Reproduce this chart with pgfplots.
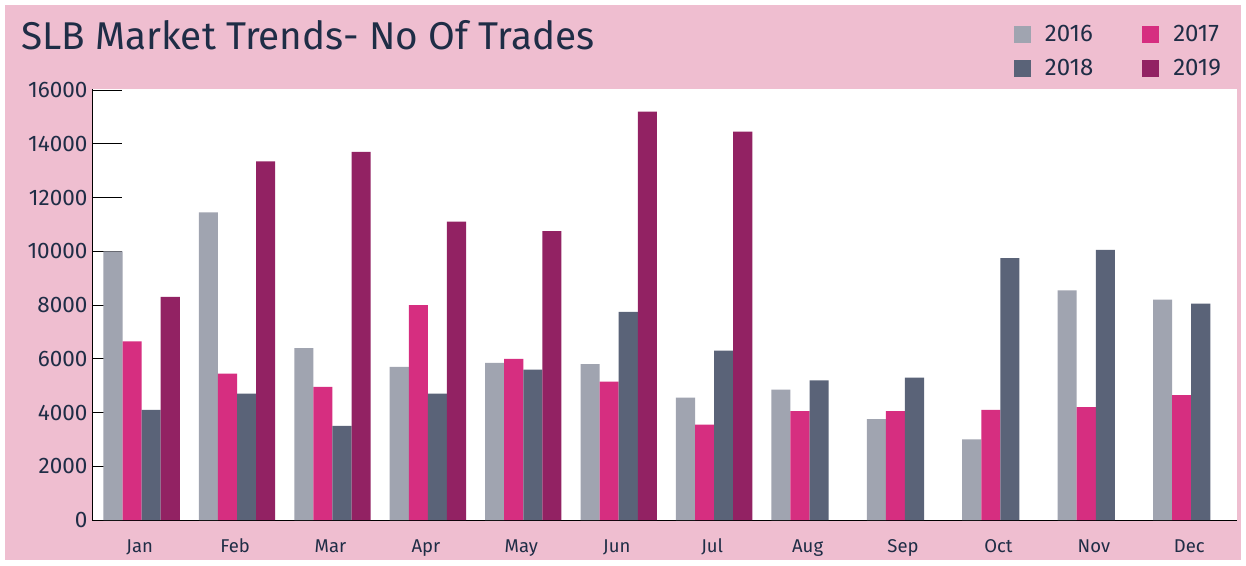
\documentclass[border=0pt]{standalone}
\usepackage{pgfplots}
\pgfplotsset{compat=1.18}
\usepackage{pgfplotstable}
\usepackage{fontspec}
\setmainfont{Fira Sans}
\definecolor{bgpink}{HTML}{EFBED0}
\definecolor{txt}{HTML}{1F2D46}
\definecolor{cA}{HTML}{A0A4B0}
\definecolor{cB}{HTML}{D62E80}
\definecolor{cC}{HTML}{5A6378}
\definecolor{cD}{HTML}{922263}

% month index, value
\pgfplotstableread{
x y
0 10000
1 11450
2 6400
3 5700
4 5850
5 5800
6 4550
7 4850
8 3750
9 3000
10 8550
11 8200
}\tA
\pgfplotstableread{
x y
0 6650
1 5450
2 4950
3 8000
4 6000
5 5150
6 3550
7 4050
8 4050
9 4100
10 4200
11 4650
}\tB
\pgfplotstableread{
x y
0 4100
1 4700
2 3500
3 4700
4 5600
5 7750
6 6300
7 5200
8 5300
9 9750
10 10050
11 8050
}\tC
\pgfplotstableread{
x y
0 8300
1 13350
2 13700
3 11100
4 10750
5 15200
6 14450
}\tD

\begin{document}
\begin{tikzpicture}
\fill[white] (0pt,0pt) rectangle (1246pt,565pt);
\fill[bgpink] (5pt,5pt) rectangle (1241pt,560pt);
\begin{axis}[
  at={(92pt,45pt)}, anchor=south west,
  scale only axis, width=1145pt, height=431pt,
  xmin=-0.5, xmax=11.5, ymin=0, ymax=16040,
  axis background/.style={fill=white},
  axis x line*=bottom, axis y line*=left,
  axis line style={black, line width=1pt, -},
  xtick={0,1,...,11},
  xticklabels={Jan,Feb,Mar,Apr,May,Jun,Jul,Aug,Sep,Oct,Nov,Dec},
  xtick style={draw=none},
  major tick length=30pt,
  extra x ticks={-0.5,0.5,...,11.5},
  extra x tick labels={},
  extra x tick style={major tick length=12pt, tick style={draw=black, line width=1pt}},
  x tick label style={font=\fontsize{18.5}{18.5}\selectfont, text=txt, anchor=base, yshift=-32pt},
  ytick={0,2000,...,16000},
  yticklabel style={font=\fontsize{22.5}{22.5}\selectfont, text=txt, xshift=-1pt},
  scaled y ticks=false,
  /pgf/number format/assume math mode=true,
  yticklabel={\pgfmathprintnumber[fixed,1000 sep={}]{\tick}},
  ytick style={black, line width=1pt},
  xtick align=inside, ytick align=inside,
  legend columns=2,
  legend cell align=left,
  legend style={at={(axis description cs:0.9905,1.157)}, anchor=north east, draw=none, fill=none,
    font=\fontsize{24}{24}\selectfont, text=txt,
    /tikz/every odd column/.append style={column sep=12pt},
    /tikz/every even column/.append style={column sep=47pt},
    row sep=12pt},
  legend image code/.code={\fill[#1] (0pt,-8.5pt) rectangle (17pt,8.5pt);},
  clip=false,
]
\addplot[ybar, bar width=0.2, bar shift=-0.28, fill=cA, draw=none] table[x=x,y=y]{\tA};
\addlegendentry{2016}
\addplot[ybar, bar width=0.2, bar shift=-0.08, fill=cB, draw=none] table[x=x,y=y]{\tB};
\addlegendentry{2017}
\addplot[ybar, bar width=0.2, bar shift=0.12, fill=cC, draw=none] table[x=x,y=y]{\tC};
\addlegendentry{2018}
\addplot[ybar, bar width=0.2, bar shift=0.32, fill=cD, draw=none] table[x=x,y=y]{\tD};
\addlegendentry{2019}
\end{axis}
\node[anchor=base west, text=txt, font=\fontsize{38.7}{38.7}\selectfont, inner sep=0pt] at (21pt,515pt) {SLB Market Trends- No Of Trades};
\end{tikzpicture}
\end{document}
